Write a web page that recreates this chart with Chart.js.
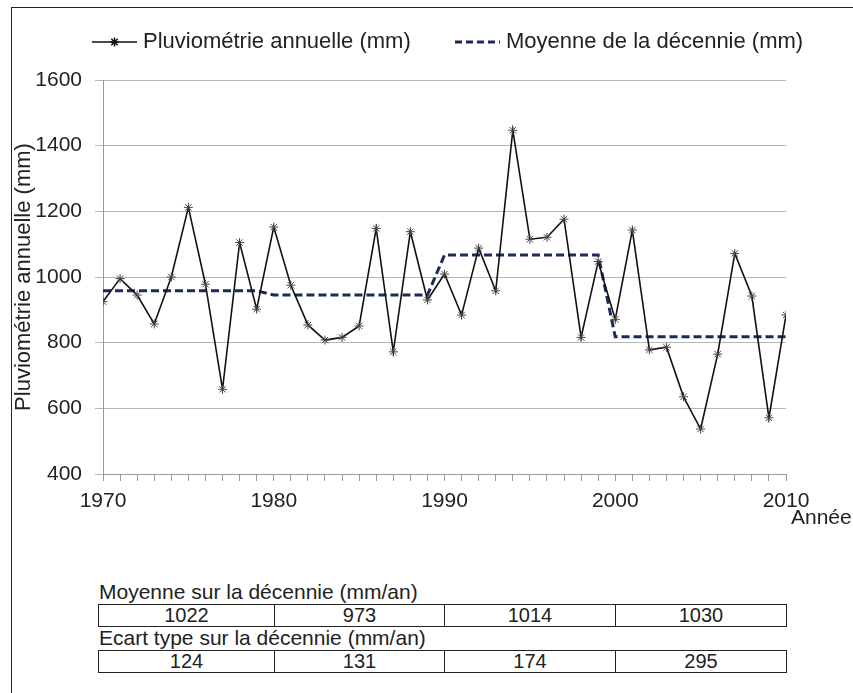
<!DOCTYPE html>
<html>
<head>
<meta charset="utf-8">
<script src="https://cdn.jsdelivr.net/npm/chart.js@4.4.1/dist/chart.umd.min.js"></script>
<style>
  body { margin: 0; background: #fff; font-family: 'Liberation Sans', Arial, sans-serif; }
  #cadre { position: absolute; left: 11px; top: 7px; width: 900px; height: 700px; border-left: 1px solid #222; border-top: 1px solid #222; }
  #zone { position: absolute; left: 0; top: 0; width: 853px; height: 540px; }
  .legende { position: absolute; left: 99px; font-size: 21px; color: #222; white-space: nowrap; }
  table.tab { position: absolute; left: 98px; border-collapse: collapse; font-size: 20px; color: #222; }
  table.tab td { border: 1px solid #222; height: 21px; padding: 0; text-align: center; line-height: 21px; }
</style>
</head>
<body>
<div id="cadre"></div>
<div id="zone"><canvas id="grafico" width="853" height="540"></canvas></div>
<div class="legende" style="top:580px">Moyenne sur la décennie (mm/an)</div>
<table class="tab" id="tabMoy" style="top:604px"></table>
<div class="legende" style="top:626px">Ecart type sur la décennie (mm/an)</div>
<table class="tab" id="tabEcart" style="top:650px"></table>
<script>
var annees = [1970, 1971, 1972, 1973, 1974, 1975, 1976, 1977, 1978, 1979,
              1980, 1981, 1982, 1983, 1984, 1985, 1986, 1987, 1988, 1989,
              1990, 1991, 1992, 1993, 1994, 1995, 1996, 1997, 1998, 1999,
              2000, 2001, 2002, 2003, 2004, 2005, 2006, 2007, 2008, 2009, 2010];
var pluvioAnnuelle = [925, 995, 945, 857, 1000, 1212, 978, 658, 1105, 902,
                      1152, 975, 854, 808, 816, 851, 1148, 772, 1138, 930,
                      1009, 884, 1088, 958, 1447, 1115, 1121, 1176, 816, 1047,
                      871, 1143, 778, 786, 635, 537, 765, 1072, 942, 571, 884];

// trait de la moyenne par decennie (debut, fin, valeur)
var debutDecennie = [1970, 1980, 1990, 2000];
var finDecennie = [1979, 1989, 1999, 2010];
var moyenneTrait = [958, 945, 1067, 818];

// tableau sous le graphique
var moyennesTableau = [1022, 973, 1014, 1030];
var ecartsTableau = [124, 131, 174, 295];

var graduationsY = [400, 600, 800, 1000, 1200, 1400, 1600];

var police = "'Liberation Sans', Arial, sans-serif";
Chart.defaults.font.family = police;
Chart.defaults.color = '#222';

function remplirTableau(id, valeurs) {
  var tab = document.getElementById(id);
  var tr = document.createElement('tr');
  var largeurs = [176, 170, 171, 171];
  for (var i = 0; i < valeurs.length; i++) {
    var td = document.createElement('td');
    td.style.width = (largeurs[i] - 1) + 'px';
    td.textContent = valeurs[i];
    tr.appendChild(td);
  }
  tab.appendChild(tr);
}

function pointsPluvio() {
  var pts = [];
  for (var i = 0; i < annees.length; i++) {
    pts.push({x: annees[i], y: pluvioAnnuelle[i]});
  }
  return pts;
}

function pointsMoyenne() {
  var pts = [];
  for (var i = 0; i < debutDecennie.length; i++) {
    pts.push({x: debutDecennie[i], y: moyenneTrait[i]});
    pts.push({x: finDecennie[i], y: moyenneTrait[i]});
  }
  return pts;
}

var legendeEtTitre = {
  id: 'legendeEtTitre',
  afterDraw: function(chart) {
    var ctx = chart.ctx;
    var zone = chart.chartArea;
    var echX = chart.scales.x;
    ctx.save();
    ctx.font = '22px ' + police;
    ctx.fillStyle = '#222';
    ctx.textBaseline = 'middle';
    var y = 42;
    var x0 = zone.left - 11;
    // serie 1 : trait + etoile
    ctx.strokeStyle = '#111';
    ctx.lineWidth = 1.5;
    ctx.beginPath();
    ctx.moveTo(x0, y);
    ctx.lineTo(x0 + 45, y);
    ctx.stroke();
    Chart.helpers.drawPoint(ctx, {pointStyle: 'star', radius: 4.5, rotation: 0, borderWidth: 1}, x0 + 22.5, y);
    ctx.fillText('Pluviométrie annuelle (mm)', x0 + 51, y);
    // serie 2 : pointilles
    var x1 = x0 + 363;
    ctx.strokeStyle = '#1b2a5c';
    ctx.lineWidth = 3;
    ctx.setLineDash([7, 4]);
    ctx.beginPath();
    ctx.moveTo(x1, y);
    ctx.lineTo(x1 + 45, y);
    ctx.stroke();
    ctx.setLineDash([]);
    ctx.fillText('Moyenne de la décennie (mm)', x1 + 51, y);
    // titre axe x
    ctx.font = '21px ' + police;
    ctx.textAlign = 'left';
    ctx.fillText('Année', echX.right + 5, 518);
    ctx.restore();
  }
};

remplirTableau('tabMoy', moyennesTableau);
remplirTableau('tabEcart', ecartsTableau);

var contexto = document.getElementById('grafico').getContext('2d');
var chart = new Chart(contexto, {
  type: 'line',
  data: {
    datasets: [{
      label: 'Pluviométrie annuelle (mm)',
      data: pointsPluvio(),
      borderColor: '#111',
      borderWidth: 1.6,
      pointStyle: 'star',
      pointRadius: 4.5,
      pointBorderColor: '#444',
      pointBorderWidth: 1,
      tension: 0,
      fill: false
    }, {
      label: 'Moyenne de la décennie (mm)',
      data: pointsMoyenne(),
      borderColor: '#1b2a5c',
      borderWidth: 3,
      borderDash: [8, 4],
      pointRadius: 0,
      tension: 0,
      fill: false
    }]
  },
  options: {
    responsive: false,
    animation: false,
    layout: { padding: { top: 80, left: 0, right: 67, bottom: 0 } },
    plugins: {
      legend: { display: false },
      tooltip: { enabled: false }
    },
    scales: {
      x: {
        type: 'linear',
        min: 1970,
        max: 2010,
        afterFit: function(scale) { scale.height = 66; },
        grid: { drawOnChartArea: false, color: '#999', tickLength: 7 },
        border: { color: '#999' },
        ticks: {
          stepSize: 1,
          autoSkip: false,
          maxRotation: 0,
          padding: 8,
          font: { size: 21 },
          callback: function(v) { return v % 10 === 0 ? String(v) : ''; }
        }
      },
      y: {
        min: 400,
        max: 1600,
        afterFit: function(scale) { scale.width = 103; },
        afterBuildTicks: function(scale) {
          scale.ticks = graduationsY.map(function(v) { return {value: v}; });
        },
        grid: { color: '#b5b5b5', tickLength: 8 },
        border: { color: '#999' },
        ticks: {
          padding: 13,
          font: { size: 21 },
          callback: function(v) { return String(v); }
        },
        title: {
          display: true,
          text: 'Pluviométrie annuelle (mm)',
          font: { size: 22 },
          padding: { top: 11, bottom: 0 }
        }
      }
    }
  },
  plugins: [legendeEtTitre]
});
</script>
</body>
</html>
